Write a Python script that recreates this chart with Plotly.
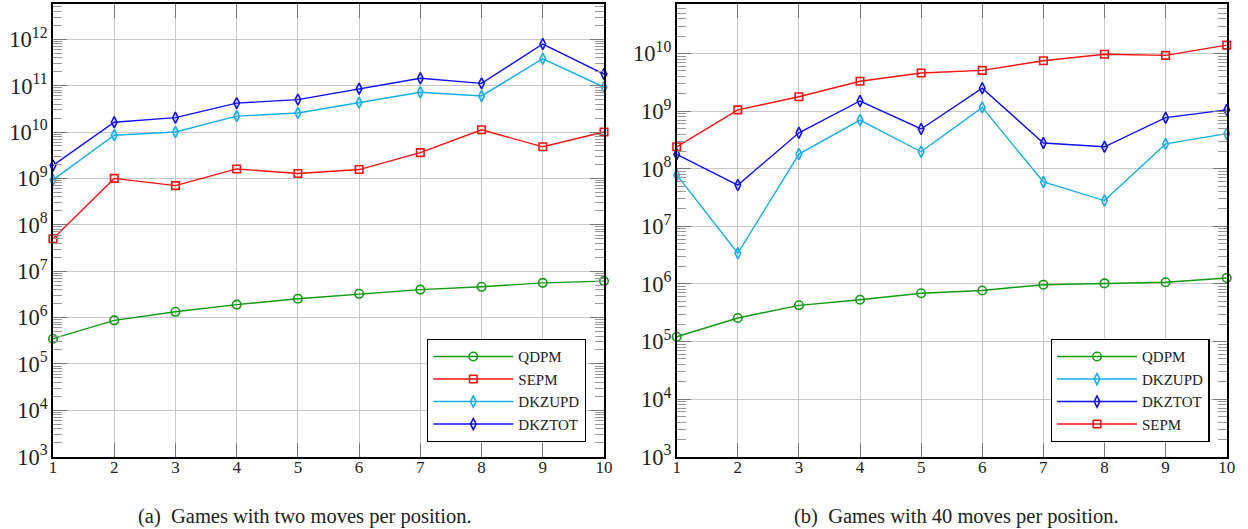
import plotly.graph_objects as go

x = list(range(1, 11))

# Panel (a): games with two moves per position
a_qdpm = [3.5e5, 8.7e5, 1.33e6, 1.9e6, 2.55e6, 3.25e6, 4.0e6, 4.6e6, 5.6e6, 6.1e6]
a_sepm = [5.0e7, 1.0e9, 7.0e8, 1.6e9, 1.28e9, 1.55e9, 3.6e9, 1.12e10, 4.8e9, 1.0e10]
a_dkzupd = [9.3e8, 8.5e9, 1.0e10, 2.2e10, 2.57e10, 4.3e10, 7.2e10, 6.0e10, 3.8e11, 9.3e10]
a_dkztot = [1.9e9, 1.63e10, 2.04e10, 4.2e10, 5.0e10, 8.6e10, 1.44e11, 1.12e11, 7.9e11, 1.78e11]

# Panel (b): games with 40 moves per position
b_qdpm = [1.21e5, 2.56e5, 4.25e5, 5.3e5, 6.9e5, 7.7e5, 9.7e5, 1.02e6, 1.07e6, 1.27e6]
b_dkzupd = [7.8e7, 3.4e6, 1.8e8, 7.0e8, 1.97e8, 1.16e9, 5.9e7, 2.8e7, 2.7e8, 4.06e8]
b_dkztot = [1.78e8, 5.2e7, 4.2e8, 1.5e9, 4.9e8, 2.5e9, 2.8e8, 2.4e8, 7.7e8, 1.05e9]
b_sepm = [2.4e8, 1.05e9, 1.78e9, 3.3e9, 4.6e9, 5.1e9, 7.5e9, 9.7e9, 9.3e9, 1.4e10]

captions = ["(a)  Games with two moves per position.", "(b)  Games with 40 moves per position."]

GREEN = "#119a11"
RED = "#ff1010"
CYAN = "#14aee8"
BLUE = "#1010f0"
FONT = "Liberation Serif, serif"

styles = {
    "QDPM": (GREEN, "circle-open", 8.5),
    "SEPM": (RED, "square-open", 7.5),
    "DKZUPD": (CYAN, "diamond-tall-open", 8),
    "DKZTOT": (BLUE, "diamond-tall-open", 8),
}

fig = go.Figure()

def add(name, ys, xa, ya, legend):
    c, sym, sz = styles[name]
    fig.add_trace(go.Scatter(
        x=x, y=ys, name=name, mode="lines+markers", xaxis=xa, yaxis=ya,
        legend=legend, cliponaxis=False,
        line=dict(color=c, width=1.4),
        marker=dict(symbol=sym, size=sz, color=c, line=dict(color=c, width=1.6)),
    ))

add("QDPM", a_qdpm, "x", "y", "legend")
add("SEPM", a_sepm, "x", "y", "legend")
add("DKZUPD", a_dkzupd, "x", "y", "legend")
add("DKZTOT", a_dkztot, "x", "y", "legend")

add("QDPM", b_qdpm, "x2", "y2", "legend2")
add("DKZUPD", b_dkzupd, "x2", "y2", "legend2")
add("DKZTOT", b_dkztot, "x2", "y2", "legend2")
add("SEPM", b_sepm, "x2", "y2", "legend2")

W, H = 1248, 529
ydom = [1 - 456.7 / H, 1 - 4 / H]

xcommon = dict(
    range=[1, 10], tick0=1, dtick=1, showgrid=True, gridcolor="#c8c8c8", gridwidth=1.3,
    showline=True, linecolor="black", linewidth=1.6, mirror="allticks",
    ticks="inside", ticklen=14, tickcolor="#777777", tickwidth=1, automargin=False,
    ticklabelstandoff=-6,
    tickfont=dict(family=FONT, size=17, color="#222222"), zeroline=False,
)
ycommon = dict(
    type="log", dtick=1, exponentformat="power", showgrid=True, gridcolor="#c8c8c8",
    gridwidth=1.3, showline=True, linecolor="black", linewidth=1.6, mirror="allticks",
    ticks="inside", ticklen=14, tickcolor="#777777", tickwidth=1, automargin=False,
    tickfont=dict(family=FONT, size=18, color="#222222"), zeroline=False,
    minor=dict(ticks="inside", ticklen=9, tickcolor="#999999", tickwidth=1, showgrid=False),
)

legcommon = dict(
    xanchor="right", yanchor="bottom", bgcolor="white", bordercolor="black",
    borderwidth=1.3, font=dict(family=FONT, size=15, color="#222222"),
    tracegroupgap=0, itemwidth=80,
)

fig.update_layout(
    width=W, height=H, margin=dict(l=0, r=0, t=0, b=0, autoexpand=False),
    plot_bgcolor="white", paper_bgcolor="white", showlegend=True,
    font=dict(family=FONT, color="#222222"),
    xaxis=dict(domain=[53 / W, 604 / W], anchor="y", **xcommon),
    yaxis=dict(domain=ydom, anchor="x", range=[3, 12.76], **ycommon),
    xaxis2=dict(domain=[676.7 / W, 1226.7 / W], anchor="y2", **xcommon),
    yaxis2=dict(domain=ydom, anchor="x2", range=[3, 10.86], **ycommon),
    legend=dict(x=586 / W, y=1 - 442 / H, **legcommon),
    legend2=dict(x=1209.7 / W, y=1 - 442 / H, **legcommon),
    annotations=[
        dict(text=captions[0], x=305 / W, y=1 - 516 / H, xref="paper", yref="paper",
             xanchor="center", yanchor="middle", showarrow=False,
             font=dict(family=FONT, size=20.5, color="#222222")),
        dict(text=captions[1], x=956 / W, y=1 - 516 / H, xref="paper", yref="paper",
             xanchor="center", yanchor="middle", showarrow=False,
             font=dict(family=FONT, size=20.5, color="#222222")),
    ],
)

fig.write_html(
    "out.html",
    config={"displayModeBar": False},
    post_script="document.body.style.margin='0';document.body.style.overflow='hidden';",
)
